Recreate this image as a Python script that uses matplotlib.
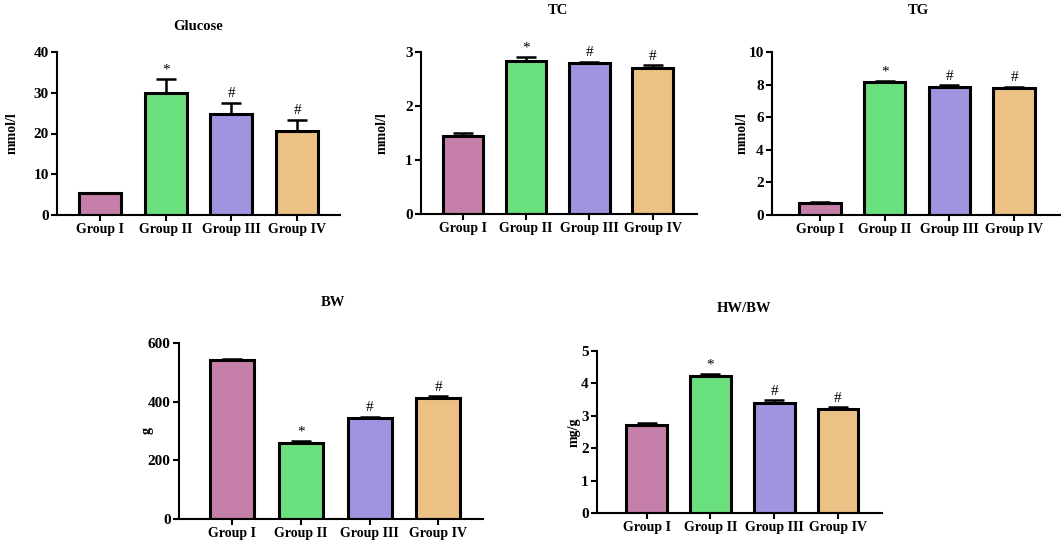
import matplotlib
matplotlib.use("Agg")
import matplotlib.pyplot as plt

plt.rcParams['font.family'] = ['Liberation Serif', 'DejaVu Serif']
plt.rcParams['font.weight'] = 'bold'

groups = ['Group I', 'Group II', 'Group III', 'Group IV']
colors = ['#C67FA8', '#6BE07F', '#9E94E0', '#EBC185']
marks = ['', '*', '#', '#']

glucose = [5.3, 29.9, 24.8, 20.7]
glucose_err = [0.2, 3.5, 2.8, 2.7]
tc = [1.44, 2.84, 2.79, 2.70]
tc_err = [0.06, 0.06, 0.03, 0.06]
tg = [0.72, 8.13, 7.86, 7.80]
tg_err = [0.1, 0.1, 0.1, 0.08]
bw = [541, 258, 343, 411]
bw_err = [6, 7, 6, 7]
hwbw = [2.72, 4.22, 3.41, 3.21]
hwbw_err = [0.06, 0.08, 0.07, 0.06]

fig = plt.figure(figsize=(10.64, 5.48), dpi=100)
W, H = 1064, 548


def panel(px, title, ylabel, vals, errs, ymax, yticks, xlim, title_xy, label_x):
    # px = (left, top, right, bottom) in pixels
    l, t, r, b = px
    ax = fig.add_axes([l / W, 1 - b / H, (r - l) / W, (b - t) / H])
    x = range(len(groups))
    ax.bar(x, vals, width=0.64, color=colors, edgecolor='black', linewidth=2.2, zorder=2)
    ax.errorbar(x, vals, yerr=[[0] * len(errs), errs], fmt='none', ecolor='black',
                elinewidth=1.8, capsize=7, capthick=1.8, zorder=1)
    for i in x:
        if marks[i]:
            ax.text(i, vals[i] + errs[i] + ymax * 0.015, marks[i], ha='center', va='bottom',
                    fontsize=11, fontweight='normal')
    ax.set_ylim(0, ymax)
    ax.set_yticks(yticks)
    ax.set_xlim(*xlim)
    ax.set_xticks(list(x))
    ax.set_xticklabels(groups, fontsize=10, fontweight='bold')
    for lab in ax.get_yticklabels():
        lab.set_fontsize(11)
        lab.set_fontweight('bold')
    ax.spines['top'].set_visible(False)
    ax.spines['right'].set_visible(False)
    ax.spines['left'].set_linewidth(1.5)
    ax.spines['bottom'].set_linewidth(1.5)
    ax.tick_params(axis='both', width=1.5, length=4.5, pad=1.5)
    ax.set_ylabel(ylabel, fontsize=10, fontweight='bold')
    ax.yaxis.set_label_coords(label_x, 0.5)
    fig.text(title_xy[0] / W, 1 - title_xy[1] / H, title, ha='center', va='center',
             fontsize=10.5, fontweight='bold')
    return ax


panel((57, 52, 340, 215), 'Glucose', 'mmol/l', glucose, glucose_err, 40, [0, 10, 20, 30, 40],
      (-0.65, 3.65), (198, 26), -0.134)
panel((421, 52, 697, 214), 'TC', 'mmol/l', tc, tc_err, 3, [0, 1, 2, 3],
      (-0.66, 3.70), (558, 11), -0.116)
panel((772, 52, 1060, 215), 'TG', 'mmol/l', tg, tg_err, 10, [0, 2, 4, 6, 8, 10],
      (-0.74, 3.71), (918, 11), -0.080)
panel((179, 343, 483, 519), 'BW', 'g', bw, bw_err, 600, [0, 200, 400, 600],
      (-0.77, 3.65), (333, 303), -0.082)
panel((597, 351, 882, 513), 'HW/BW', 'mg/g', hwbw, hwbw_err, 5, [0, 1, 2, 3, 4, 5],
      (-0.78, 3.69), (744, 308), -0.058)

fig.savefig('out.png', dpi=100)
